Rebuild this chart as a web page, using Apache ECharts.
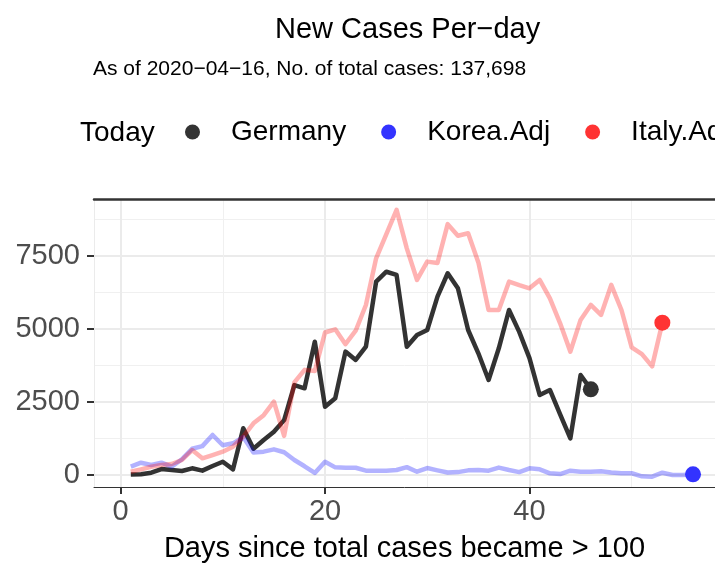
<!DOCTYPE html>
<html>
<head>
<meta charset="utf-8">
<script src="https://cdn.jsdelivr.net/npm/echarts@6/dist/echarts.min.js"></script>
<style>
  html, body { margin: 0; padding: 0; background: #fff; }
  #main { width: 715px; height: 571px; }
</style>
</head>
<body>
<div id="main"></div>
<script>
// new cases per day, day 1 = first day with > 100 total cases
var germany = [20, 30, 80, 205, 170, 137, 230, 150, 308, 455,
  195, 1600, 900, 1200, 1480, 1880, 3080, 2970, 4565, 2340,
  2625, 4225, 3940, 4395, 6620, 6960, 6850, 4395, 4795, 4966,
  6107, 6908, 6393, 4966, 4167, 3254, 4338, 5650, 4900, 4000,
  2740, 2911, 2080, 1257, 3425, 2935]
var korea = [285, 422, 342, 422, 285, 540, 900, 990, 1370, 1020,
  1085, 1300, 770, 800, 880, 780, 514, 300, 70, 455,
  262, 250, 250, 148, 148, 148, 171, 270, 114, 240,
  160, 85, 100, 160, 171, 148, 255, 171, 100, 228,
  195, 57, 34, 148, 114, 114, 130, 90, 60, 60,
  -45, -57, 80, 0, 0, 23]
var italy = [113, 195, 285, 342, 377, 514, 856, 571, 685, 799,
  970, 1312, 1770, 2050, 2511, 1340, 3170, 3600, 3560, 4880,
  4990, 4480, 4940, 5820, 7420, 8250, 9076, 7760, 6679, 7306,
  7260, 8590, 8190, 8278, 7280, 5650, 5650, 6620, 6500, 6393,
  6679, 6050, 5195, 4225, 5310, 5823, 5480, 6508, 5650, 4370,
  4140, 3720, 5216]

var xTicks = [0, 20, 40]
var xMinor = [10, 30, 50]
var yTicks = [0, 2500, 5000, 7500]
var yMinor = [1250, 3750, 6250, 8750]

function toPoints(arr) {
  return arr.map(function (v, i) { return [i + 1, v] })
}
function lastPoint(arr) {
  return [[arr.length, arr[arr.length - 1]]]
}
function plain(v) {
  return String(v)
}

var lineSeries = function (name, data, color) {
  return {
    name: name + ' line',
    type: 'line',
    data: toPoints(data),
    showSymbol: false,
    lineStyle: { color: color, width: 4.5, join: 'round' },
    itemStyle: { color: color }
  }
}
var todaySeries = function (name, data, color) {
  return {
    name: name,
    type: 'scatter',
    data: lastPoint(data),
    symbolSize: 16,
    itemStyle: { color: color, opacity: 1 },
    z: 5
  }
}

var myChart = echarts.init(document.getElementById('main'))

var font = 'Liberation Sans'
var option = {
  animation: false,
  title: [
    { text: 'New Cases Per\u2212day', left: 275, top: 15, padding: 0,
      textStyle: { fontSize: 29, fontWeight: 'normal', color: '#000', fontFamily: font } },
    { text: 'As of 2020\u221204\u221216, No. of total cases: 137,698', left: 93, top: 59, padding: 0,
      textStyle: { fontSize: 21, fontWeight: 'normal', color: '#000', fontFamily: font } },
    { text: 'Today', left: 80, top: 119, padding: 0,
      textStyle: { fontSize: 28, fontWeight: 'normal', color: '#000', fontFamily: font } }
  ],
  legend: {
    data: ['Germany', 'Korea.Adj', 'Italy.Adj'],
    left: 185,
    top: 118,
    width: 700,
    padding: 0,
    icon: 'circle',
    itemWidth: 15,
    itemHeight: 15,
    itemGap: 35,
    selectedMode: false,
    itemStyle: { opacity: 1 },
    textStyle: { fontSize: 28, color: '#000', fontFamily: font, padding: [0, 0, 0, 26] }
  },
  grid: { left: 94, top: 199, right: 0, bottom: 84 },
  xAxis: [
    {
      type: 'value', min: -2.6, max: 58.15, position: 'bottom',
      name: 'Days since total cases became > 100',
      nameLocation: 'middle', nameGap: 47,
      nameTextStyle: { fontSize: 29, color: '#000', fontFamily: font },
      axisLine: { show: true, onZero: false, lineStyle: { color: '#333', width: 1 } },
      axisTick: { show: true, customValues: xTicks, length: 7, lineStyle: { color: '#333', width: 2 } },
      axisLabel: { customValues: xTicks, formatter: plain, fontSize: 29, color: '#4d4d4d', margin: 10, fontFamily: font },
      splitLine: { show: true, lineStyle: { color: '#ebebeb', width: 2 } }
    },
    {
      type: 'value', min: -2.6, max: 58.15, position: 'top',
      axisLine: { show: true, onZero: false, lineStyle: { color: '#333', width: 2.5 } },
      axisTick: { show: false, customValues: xMinor },
      axisLabel: { show: false, customValues: xMinor },
      splitLine: { show: true, lineStyle: { color: '#f0f0f0', width: 1 } }
    }
  ],
  yAxis: [
    {
      type: 'value', min: -410, max: 9450, position: 'left',
      axisLine: { show: true, onZero: false, lineStyle: { color: '#ebebeb', width: 1 } },
      axisTick: { show: true, customValues: yTicks, length: 7, lineStyle: { color: '#333', width: 2 } },
      axisLabel: { customValues: yTicks, formatter: plain, fontSize: 29, color: '#4d4d4d', margin: 14, fontFamily: font },
      splitLine: { show: true, lineStyle: { color: '#ebebeb', width: 2 } }
    },
    {
      type: 'value', min: -410, max: 9450, position: 'right',
      axisLine: { show: false, onZero: false },
      axisTick: { show: false, customValues: yMinor },
      axisLabel: { show: false, customValues: yMinor },
      splitLine: { show: true, lineStyle: { color: '#f0f0f0', width: 1 } }
    }
  ],
  series: [
    lineSeries('Germany', germany, 'rgba(0,0,0,0.8)'),
    lineSeries('Korea.Adj', korea, 'rgba(0,0,255,0.3)'),
    lineSeries('Italy.Adj', italy, 'rgba(255,0,0,0.3)'),
    todaySeries('Germany', germany, '#333333'),
    todaySeries('Korea.Adj', korea, '#3333ff'),
    todaySeries('Italy.Adj', italy, '#ff3333')
  ]
}

myChart.setOption(option)
</script>
</body>
</html>
